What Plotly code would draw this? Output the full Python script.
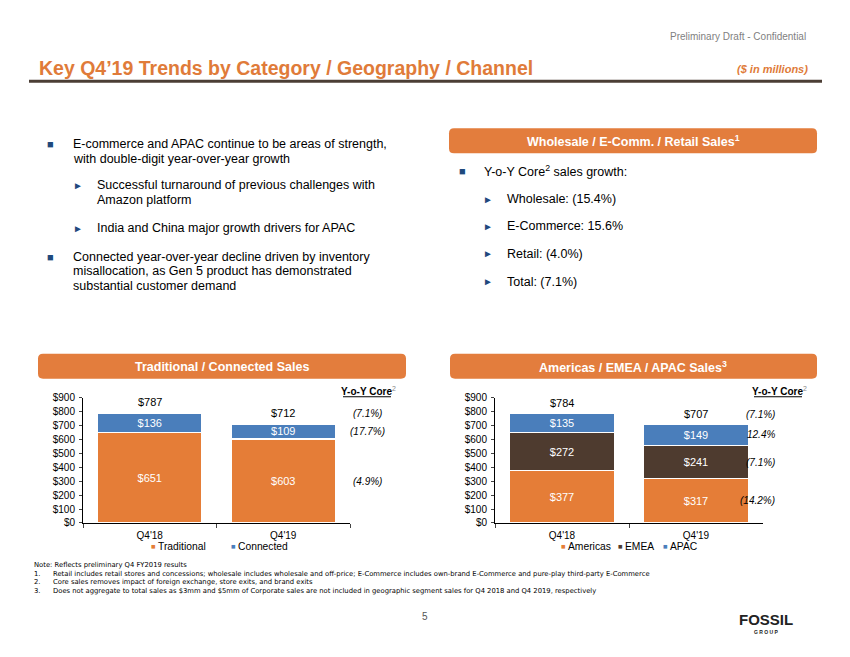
import plotly.graph_objects as go

# page is drawn inside the default 8px body margin, so the figure fills the rest of the window
OFF = 8
W, H = 850 - OFF, 657 - OFF

# ---------------- data ----------------
categories = ["Q4'18", "Q4'19"]
traditional = [651, 603]
connected = [136, 109]
americas = [377, 317]
emea = [272, 241]
apac = [135, 149]
left_totals = [787, 712]
right_totals = [784, 707]
yoy_left = ["(7.1%)", "(17.7%)", "(4.9%)"]          # total, connected, traditional
yoy_right = ["(7.1%)", "12.4%", "(7.1%)", "(14.2%)"]  # total, APAC, EMEA, Americas

ORANGE = "#E57D37"
BOX = "#E37D3D"
BLUE = "#4A7EBB"
BROWN = "#4E3B2F"
NAVY = "#1F497D"
FONT = "Liberation Sans, Arial, sans-serif"


def px(x):
    return (x - OFF) / W


def py(y):
    y = (y - 5) / 0.983
    return 1 - (y - OFF) / H


fig = go.Figure()


def bar(vals, nm, col, xa, ya):
    return go.Bar(x=categories, y=vals, name=nm, marker=dict(color=col, line=dict(color="white", width=1.2)),
                  text=[f"${v}" for v in vals], textposition="inside", insidetextanchor="middle", textangle=0,
                  constraintext="none", textfont=dict(color="white", size=11, family=FONT),
                  xaxis=xa, yaxis=ya, showlegend=False, hoverinfo="x+y+name")


# ---------- left chart ----------
fig.add_trace(bar(traditional, "Traditional", ORANGE, "x", "y"))
fig.add_trace(bar(connected, "Connected", BLUE, "x", "y"))
# ---------- right chart ----------
fig.add_trace(bar(americas, "Americas", ORANGE, "x2", "y2"))
fig.add_trace(bar(emea, "EMEA", BROWN, "x2", "y2"))
fig.add_trace(bar(apac, "APAC", BLUE, "x2", "y2"))

axis_common = dict(showline=True, linecolor="black", linewidth=1, ticks="outside", showgrid=False, zeroline=False,
                   tickfont=dict(size=10, family=FONT, color="black"))
ydom = [py(522), py(397)]

fig.update_layout(
    width=W, height=H, margin=dict(l=0, r=0, t=0, b=0),
    paper_bgcolor="white", plot_bgcolor="white",
    barmode="stack", bargap=0.22, showlegend=False,
    font=dict(family=FONT, color="black"),
    xaxis=dict(domain=[px(83), px(350)], type="category", tickson="boundaries", ticklen=4, ticklabelstandoff=3,
               **axis_common),
    yaxis=dict(domain=ydom, range=[0, 900], dtick=100, tickprefix="$", ticklen=3, ticklabelstandoff=2, **axis_common),
    xaxis2=dict(domain=[px(495), px(763)], type="category", tickson="boundaries", ticklen=4, ticklabelstandoff=3,
                anchor="y2", **axis_common),
    yaxis2=dict(domain=ydom, range=[0, 900], dtick=100, tickprefix="$", ticklen=3, ticklabelstandoff=2,
                anchor="x2", **axis_common),
)

shapes = []
ann = []


def text(x, y, s, size=12.5, color="black", xanchor="left", bold=False, italic=False, yanchor="middle",
         family=FONT, **kw):
    if bold:
        s = f"<b>{s}</b>"
    if italic:
        s = f"<i>{s}</i>"
    ann.append(dict(x=px(x), y=py(y), xref="paper", yref="paper", text=s, showarrow=False, xanchor=xanchor,
                    yanchor=yanchor, font=dict(size=size, color=color, family=family), **kw))


def rrect(x0, y0, x1, y1, r, color):
    rx, ry = r / W, r / H
    X0, X1, Y0, Y1 = px(x0), px(x1), py(y0), py(y1)
    path = (f"M {X0+rx},{Y0} L {X1-rx},{Y0} Q {X1},{Y0} {X1},{Y0-ry} L {X1},{Y1+ry} Q {X1},{Y1} {X1-rx},{Y1} "
            f"L {X0+rx},{Y1} Q {X0},{Y1} {X0},{Y1+ry} L {X0},{Y0-ry} Q {X0},{Y0} {X0+rx},{Y0} Z")
    shapes.append(dict(type="path", path=path, xref="paper", yref="paper", fillcolor=color, line=dict(width=0)))


# ---------- header ----------
text(808, 36, "Preliminary Draft - Confidential", size=10, color="#7F7F7F", xanchor="right")
text(37, 68, "Key Q4’19 Trends by Category / Geography / Channel", size=19.5, color="#E07B39", bold=True)
text(810, 69, "($ in millions)", size=11, color="#E07B39", xanchor="right", bold=True, italic=True)
shapes.append(dict(type="line", xref="paper", yref="paper", x0=px(29), x1=px(822), y0=py(81), y1=py(81),
                   line=dict(color="#4B3E35", width=3)))

# ---------- left bullets ----------
SQ = "■"
TR = "►"
text(50, 144, SQ, size=11, color=NAVY, xanchor="center")
text(71, 144, "E-commerce and APAC continue to be areas of strength,", size=12.5)
text(71, 159, "with double-digit year-over-year growth", size=12.5)
text(78, 185, TR, size=10, color=NAVY, xanchor="center")
text(95, 185, "Successful turnaround of previous challenges with", size=12.5)
text(95, 200, "Amazon platform", size=12.5)
text(78, 228, TR, size=10, color=NAVY, xanchor="center")
text(95, 228, "India and China major growth drivers for APAC", size=12.5)
text(50, 256, SQ, size=11, color=NAVY, xanchor="center")
text(71, 256, "Connected year-over-year decline driven by inventory", size=12.5)
text(71, 270, "misallocation, as Gen 5 product has demonstrated", size=12.5)
text(71, 285, "substantial customer demand", size=12.5)

# ---------- right bullets ----------
rrect(449, 128, 817, 153, 5, BOX)
text(633, 141, "Wholesale / E-Comm. / Retail Sales<sup>1</sup>", size=12.5, color="white", xanchor="center", bold=True)
text(462, 171, SQ, size=11, color=NAVY, xanchor="center")
text(482, 171, "Y-o-Y Core<sup>2</sup> sales growth:", size=12.5)
for yy, s in [(199, "Wholesale: (15.4%)"), (226, "E-Commerce: 15.6%"), (253, "Retail: (4.0%)"), (281, "Total: (7.1%)")]:
    text(488, yy, TR, size=10, color=NAVY, xanchor="center")
    text(505, yy, s, size=12.5)

# ---------- chart headers ----------
rrect(38, 353, 406, 378, 5, BOX)
text(222, 366, "Traditional / Connected Sales", size=12.5, color="white", xanchor="center", bold=True)
rrect(450, 353, 817, 378, 5, BOX)
text(633, 366, "Americas / EMEA / APAC Sales<sup>3</sup>", size=12.5, color="white", xanchor="center", bold=True)

# Y-o-Y Core headers
text(392, 390, "<b>Y-o-Y Core</b><span style='color:#888'><sup>2</sup></span>", size=10, xanchor="right", xshift=6)
shapes.append(dict(type="line", xref="paper", yref="paper", x0=px(343), x1=px(391), y0=py(396), y1=py(396),
                   line=dict(color="black", width=1)))
text(803, 390, "<b>Y-o-Y Core</b><span style='color:#888'><sup>2</sup></span>", size=10, xanchor="right", xshift=6)
shapes.append(dict(type="line", xref="paper", yref="paper", x0=px(754), x1=px(802), y0=py(396), y1=py(396),
                   line=dict(color="black", width=1)))

# totals above bars
for xa, ya, totals in [("x", "y", left_totals), ("x2", "y2", right_totals)]:
    for c, t in zip(categories, totals):
        ann.append(dict(x=c, y=t, xref=xa, yref=ya, text=f"${t}", showarrow=False, yanchor="bottom", yshift=3,
                        font=dict(size=11, family=FONT, color="black")))

# Y-o-Y values aligned with the Q4'19 segments
yl = [left_totals[1], traditional[1] + connected[1] / 2, traditional[1] / 2]
for i, (s, yv) in enumerate(zip(yoy_left, yl)):
    ann.append(dict(x=px(367), y=yv, xref="paper", yref="y", text=f"<i>{s}</i>", showarrow=False,
                    yanchor="bottom" if i == 0 else "middle", yshift=3 if i == 0 else 0,
                    font=dict(size=10, family=FONT, color="black")))
yr = [right_totals[1], americas[1] + emea[1] + apac[1] / 2, americas[1] + emea[1] / 2, americas[1] / 2]
for i, (s, yv) in enumerate(zip(yoy_right, yr)):
    ann.append(dict(x=px(777), y=yv, xref="paper", yref="y2", text=f"<i>{s}</i>", showarrow=False,
                    yanchor="bottom" if i == 0 else "middle", yshift=3 if i == 0 else 0,
                    font=dict(size=10, family=FONT, color="black")))

# ---------- legends (compact, like the slide) ----------
legend_items = [("Traditional", ORANGE, 153), ("Connected", BLUE, 233),
                ("Americas", ORANGE, 563), ("EMEA", BROWN, 620), ("APAC", BLUE, 665)]
for nm, col, x0 in legend_items:
    text(x0, 546, SQ, size=7.5, color=col, xanchor="center", borderpad=0)
    text(x0 + 4, 546, nm, size=10.3, borderpad=0)

# ---------- notes ----------
NS = 6.8
NF = "DejaVu Sans, sans-serif"
text(33, 564, "Note: Reflects preliminary Q4 FY2019 results", size=NS, family=NF, borderpad=0)
notes = [
    "Retail includes retail stores and concessions; wholesale includes wholesale and off-price; E-Commerce includes own-brand E-Commerce and pure-play third-party E-Commerce",
    "Core sales removes impact of foreign exchange, store exits, and brand exits",
    "Does not aggregate to total sales as $3mm and $5mm of Corporate sales are not included in geographic segment sales for Q4 2018 and Q4 2019, respectively",
]
for i, (yy, s) in enumerate(zip([572.5, 581, 589.5], notes)):
    text(33, yy, f"{i+1}.", size=NS, family=NF, borderpad=0)
    text(52, yy, s, size=NS, family=NF, borderpad=0)

# ---------- footer ----------
text(425, 615, "5", size=10, color="#555555", xanchor="center")
text(766, 618, "<b>FOSSIL</b>", size=15, color="#222222", xanchor="center")
text(766, 631, "<b>G R O U P</b>", size=5, color="#222222", xanchor="center")

fig.update_layout(shapes=shapes, annotations=ann)
fig.write_html("out.html")
